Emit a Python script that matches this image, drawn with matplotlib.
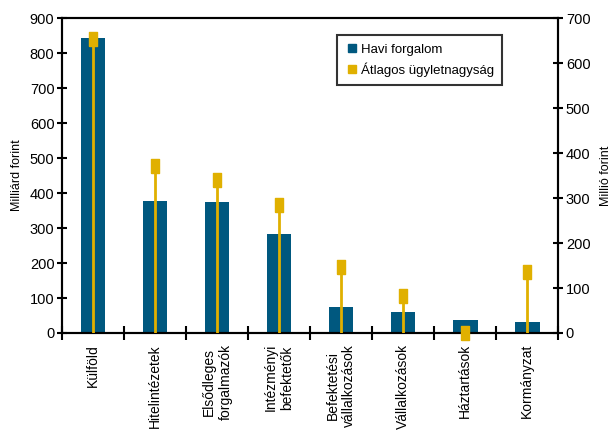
import numpy as np
import matplotlib
matplotlib.use("Agg")
import matplotlib.pyplot as plt
from matplotlib.lines import Line2D

plt.rcParams['font.family'] = ['Liberation Sans', 'DejaVu Sans']

categories = [
    "Külföld", "Hitelintézetek", "Elsődleges\nforgalmazók", "Intézményi\nbefektetők",
    "Befektetési\nvállalkozások", "Vállalkozások", "Háztartások", "Kormányzat",
]
# Havi forgalom, milliárd forint (left axis)
havi_forgalom = [842, 377, 374, 284, 73, 61, 36, 30]
# Átlagos ügyletnagyság, millió forint (right axis)
atlagos_ugylet = [653, 372, 340, 284, 147, 82, 1, 136]

BLUE = "#00587f"
YELLOW = "#e0b000"

fig = plt.figure(figsize=(6.14, 4.33), dpi=100)
ax = fig.add_axes([0.101, 0.231, 0.808, 0.727])
ax2 = ax.twinx()

x = np.arange(len(categories))
ax.bar(x, havi_forgalom, width=0.4, color=BLUE, zorder=2)
ax.set_xlim(-0.5, len(categories) - 0.5)
ax.set_ylim(0, 900)
ax.set_yticks(np.arange(0, 901, 100))
ax.set_ylabel("Milliárd forint", fontsize=9, labelpad=5)

# stems from zero up to the marker, on the right axis
ax2.vlines(x, 0, atlagos_ugylet, color=YELLOW, lw=2, zorder=3)
rect = [(-0.5, -1), (0.5, -1), (0.5, 1), (-0.5, 1), (-0.5, -1)]
ax2.plot(x, atlagos_ugylet, ls="none", marker=rect, ms=10.5, color=YELLOW,
         mec=YELLOW, clip_on=False, zorder=4)
ax2.set_ylim(0, 700)
ax2.set_yticks(np.arange(0, 701, 100))
ax2.set_ylabel("Millió forint", fontsize=9, labelpad=7)

# category ticks sit between the bars
ax.set_xticks(np.arange(len(categories) + 1) - 0.5)
ax.set_xticklabels([])
ax.set_xticks(x, minor=True)
ax.set_xticklabels(categories, minor=True, rotation=90, fontsize=10,
                   va="top", ha="center", multialignment="center",
                   linespacing=1.25)
ax.tick_params(axis="x", which="minor", length=0, pad=8)
ax.tick_params(axis="x", which="major", direction="inout", length=10, width=1.5)
ax.tick_params(axis="y", direction="inout", length=7, width=1.5, labelsize=10.5, pad=2)
ax2.tick_params(axis="y", direction="inout", length=7, width=1.5, labelsize=10.5, pad=2)

for a in (ax, ax2):
    for s in a.spines.values():
        s.set_linewidth(1.5)

handles = [
    Line2D([], [], ls="none", marker="s", ms=6, color=BLUE),
    Line2D([], [], ls="none", marker="s", ms=6, color=YELLOW),
]
leg = ax2.legend(handles, ["Havi forgalom", "Átlagos ügyletnagyság"],
                 loc="upper left", bbox_to_anchor=(0.555, 0.945), fontsize=9.5,
                 frameon=True, fancybox=False, edgecolor="black",
                 handletextpad=0.2, handlelength=1.0, borderpad=0.6,
                 labelspacing=0.5, borderaxespad=0)
leg.get_frame().set_linewidth(1.5)

fig.savefig("out.png", dpi=100)
